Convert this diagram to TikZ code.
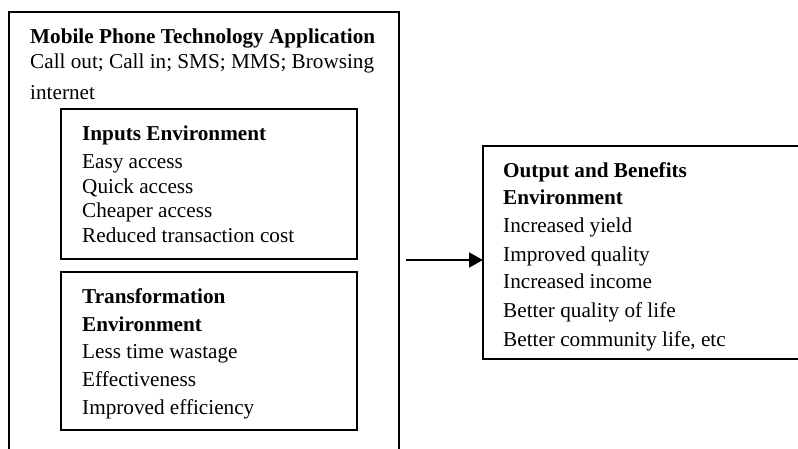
\documentclass[tikz,border=0pt]{standalone}
\usepackage{fontspec}
\setmainfont{Liberation Serif}
\usetikzlibrary{arrows.meta}

\tikzset{
  box/.style={draw, line width=1.7pt, anchor=north west, inner sep=0pt, outer sep=0pt},
  txt/.style={anchor=base west, inner sep=0pt, font=\fontsize{21.2}{25}\selectfont},
  hd/.style={txt, font=\fontsize{21.2}{25}\selectfont\bfseries},
  flow/.style={line width=1.8pt, -{Triangle[length=14pt,width=15pt]}}
}

\begin{document}
\begin{tikzpicture}[x=1pt, y=-1pt]
\useasboundingbox (0,0) rectangle (798,448);
\clip (0,0) rectangle (798,448);

% frames
\node[box, minimum width=390pt, minimum height=460pt] (outer) at (9,12) {};
\node[box, minimum width=296pt, minimum height=150pt] (inputs) at (61,109) {};
\node[box, minimum width=296pt, minimum height=158pt] (trans) at (61,272) {};
\node[box, minimum width=340pt, minimum height=213pt] (output) at (483,146) {};

% application text
\node[hd]  (appT) at (30,43) {Mobile Phone Technology Application};
\node[txt] (app1) at (30,68) {Call out; Call in; SMS; MMS; Browsing};
\node[txt] (app2) at (30,99) {internet};

% inputs environment
\node[hd]  (inT) at (82,140) {Inputs Environment};
\node[txt] (in1) at (82,168) {Easy access};
\node[txt] (in2) at (82,193) {Quick access};
\node[txt] (in3) at (82,217) {Cheaper access};
\node[txt] (in4) at (82,242) {Reduced transaction cost};

% transformation environment
\node[hd]  (trT1) at (82,303) {Transformation};
\node[hd]  (trT2) at (82,331) {Environment};
\node[txt] (tr1) at (82,358) {Less time wastage};
\node[txt] (tr2) at (82,386) {Effectiveness};
\node[txt] (tr3) at (82,414) {Improved efficiency};

% output and benefits environment
\node[hd]  (outT1) at (503,177) {Output and Benefits};
\node[hd]  (outT2) at (503,204) {Environment};
\node[txt] (out1) at (503,232) {Increased yield};
\node[txt] (out2) at (503,261) {Improved quality};
\node[txt] (out3) at (503,288) {Increased income};
\node[txt] (out4) at (503,317) {Better quality of life};
\node[txt] (out5) at (503,346) {Better community life, etc};

% link from application to outputs
\coordinate (src) at (406,260);
\draw[flow] (src) -- (src -| output.west);
\end{tikzpicture}
\end{document}
